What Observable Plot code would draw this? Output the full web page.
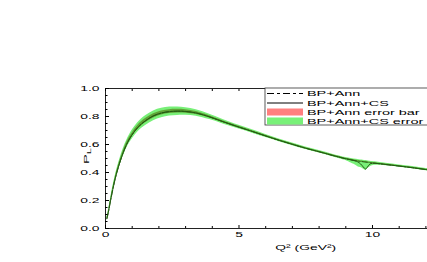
<!DOCTYPE html>
<html><head><meta charset="utf-8">
<script src="https://cdn.jsdelivr.net/npm/d3@7"></script>
<script src="https://cdn.jsdelivr.net/npm/@observablehq/plot@0.6"></script>
<style>html,body{margin:0;padding:0;background:#fff;overflow:hidden}</style>
</head><body><div id="chart"></div>
<script>
const q2 =     [0.05,0.1,0.2,0.35,0.5,0.7,0.9,1.2,1.5,1.8,2.1,2.4,2.7,3.0,3.4,3.9,4.4,5.0,5.5,6.0,6.5,7.0,7.5,8.0,8.5,9.0,9.2,9.4,9.5,9.6,9.7,9.75,9.8,9.9,10.0,10.5,11.0,11.5,12.0,12.5];
const plAnn =  [0.07,0.11,0.21,0.345,0.45,0.56,0.64,0.72,0.77,0.805,0.825,0.835,0.838,0.836,0.825,0.797,0.763,0.724,0.693,0.661,0.630,0.601,0.573,0.548,0.522,0.498,0.490,0.483,0.480,0.478,0.475,0.474,0.473,0.470,0.468,0.457,0.446,0.434,0.421,0.410];
const plCS =   [0.07,0.11,0.21,0.345,0.45,0.56,0.64,0.72,0.77,0.805,0.825,0.835,0.838,0.836,0.825,0.797,0.763,0.724,0.693,0.661,0.630,0.601,0.573,0.548,0.522,0.498,0.490,0.480,0.470,0.452,0.430,0.425,0.436,0.460,0.466,0.457,0.446,0.434,0.421,0.410];
const greenHalf = [0.005,0.009,0.014,0.019,0.023,0.027,0.030,0.033,0.035,0.035,0.034,0.032,0.030,0.027,0.023,0.019,0.016,0.013,0.012,0.011,0.010,0.010,0.009,0.009,0.009,0.009,0.010,0.011,0.011,0.011,0.011,0.011,0.011,0.011,0.010,0.009,0.008,0.008,0.008,0.008];
const greenDipExtra = [0,0,0,0,0,0,0,0,0,0,0,0,0,0,0,0,0,0,0,0,0,0,0,0,0,0.004,0.013,0.020,0.022,0.009,0,0,0,0.010,0.007,0,0,0,0,0];
const redHalf = [0.002,0.004,0.006,0.008,0.010,0.012,0.013,0.014,0.015,0.015,0.014,0.014,0.013,0.012,0.010,0.008,0.007,0.006,0.005,0.005,0.004,0.004,0.004,0.004,0.004,0.004,0.004,0.004,0.004,0.004,0.004,0.004,0.004,0.004,0.004,0.004,0.003,0.003,0.003,0.003];
const xMajor = [0,5,10];
const xMinor = [1,2,3,4,6,7,8,9,11,12];
const yMajor = [0,0.2,0.4,0.6,0.8,1.0];
const yMinor = [0.05,0.1,0.15,0.25,0.3,0.35,0.45,0.5,0.55,0.65,0.7,0.75,0.85,0.9,0.95];
const legendLabels = ["BP+Ann","BP+Ann+CS","BP+Ann error bar","BP+Ann+CS error bar"];
const xTitle = "Q\u00B2 (GeV\u00B2)";
const yTitleMain = "P", yTitleSub = "L";

const GREEN = "#78f078", OLIVE = "#5fa236", RED = "#ff7f7f", LINE = "#245a12";

const rows = q2.map((q,i)=>({
  q, ann: plAnn[i], cs: plCS[i],
  gLo: Math.min(plAnn[i],plCS[i]) - greenHalf[i] - greenDipExtra[i],
  gHi: Math.max(plAnn[i],plCS[i]) + greenHalf[i],
  rLo: plAnn[i] - redHalf[i], rHi: plAnn[i] + redHalf[i]
}));

const plot = Plot.plot({
  width: 427, height: 262,
  marginLeft: 105, marginRight: 0, marginTop: 88, marginBottom: 34,
  x: {domain: [0, 12.06], label: null},
  y: {domain: [0, 1], label: null},
  style: {fontFamily: "'Liberation Sans', Arial, sans-serif", fontSize: "7.5px", color: "#000", background: "#fff"},
  marks: [
    Plot.areaY(rows, {x: "q", y1: "gLo", y2: "gHi", fill: GREEN, curve: "catmull-rom", clip: true}),
    Plot.areaY(rows, {x: "q", y1: "rLo", y2: "rHi", fill: OLIVE, curve: "catmull-rom", clip: true}),
    Plot.line(rows, {x: "q", y: "cs", stroke: LINE, strokeWidth: 1, curve: "catmull-rom", clip: true}),
    Plot.line(rows, {x: "q", y: "ann", stroke: LINE, strokeWidth: 1, strokeDasharray: "6,2,1.5,2", curve: "catmull-rom", clip: true}),
    Plot.ruleX([0], {stroke: "#222"}),
    Plot.ruleY([0, 1], {stroke: "#222"}),
    Plot.axisY({ticks: yMajor, tickSize: -4, tickPadding: 10, tickFormat: d3.format(".1f"), label: null}),
    Plot.axisY({ticks: yMinor, tickSize: -2.5, tickFormat: () => "", label: null}),
    Plot.axisX({ticks: xMajor, tickSize: -3, tickPadding: 6, tickFormat: d => String(d), label: null}),
    Plot.axisX({ticks: xMinor, tickSize: -2, tickFormat: () => "", label: null}),
    Plot.axisX({anchor: "top", ticks: xMajor.concat(xMinor), tickSize: -2, tickFormat: () => "", label: null}),
    Plot.text([xTitle], {x: 7.5, frameAnchor: "bottom", dy: 21, text: d => d, textAnchor: "middle"})
  ]
});
document.getElementById("chart").append(plot);

const svg = d3.select(plot);
// y title
const yt = svg.append("text")
  .attr("transform", "translate(89,156) rotate(-90)")
  .attr("text-anchor", "middle")
  .attr("font-size", "8px");
yt.append("tspan").text(yTitleMain);
yt.append("tspan").attr("font-size", "6px").attr("dy", "2").text(yTitleSub);

// legend
const lg = svg.append("g").attr("font-size", "7.8px").attr("text-anchor", "start");
lg.append("rect").attr("x", 265).attr("y", 88).attr("width", 200).attr("height", 37)
  .attr("fill", "#fff").attr("stroke", "#333").attr("stroke-width", 0.8);
const rowY = [93.5, 103, 112, 121];
legendLabels.forEach((lab, i) => {
  const y = rowY[i];
  if (i === 0) lg.append("line").attr("x1", 267).attr("x2", 303).attr("y1", y).attr("y2", y)
      .attr("stroke", "#000").attr("stroke-width", 1).attr("stroke-dasharray", "7,3,3,3");
  else if (i === 1) lg.append("line").attr("x1", 267).attr("x2", 303).attr("y1", y).attr("y2", y)
      .attr("stroke", "#000").attr("stroke-width", 1);
  else lg.append("rect").attr("x", 267).attr("y", y - 3.5).attr("width", 36).attr("height", 7)
      .attr("fill", i === 2 ? RED : GREEN);
  lg.append("text").attr("x", 307).attr("y", y).attr("dy", "0.35em").attr("text-anchor", "start").text(lab);
});

// stretch all texts horizontally like the reference font
svg.selectAll("text").each(function() {
  const w = this.getComputedTextLength();
  if (w > 0) { this.setAttribute("textLength", (w * 1.85).toFixed(1)); this.setAttribute("lengthAdjust", "spacingAndGlyphs"); }
});
</script></body></html>
